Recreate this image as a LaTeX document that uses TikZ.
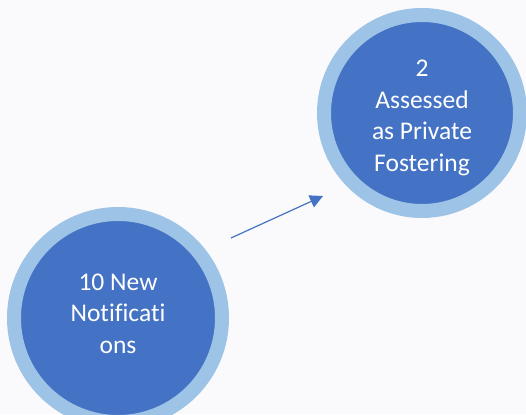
\documentclass[tikz,border=0pt]{standalone}
\usepackage{fontspec}
\usetikzlibrary{arrows.meta}
\setmainfont[Ligatures=NoCommon]{Carlito}
\definecolor{dark}{HTML}{4472C4}
\definecolor{ring}{HTML}{9DC3E6}
\definecolor{bg}{RGB}{250,250,253}
\begin{document}
\begin{tikzpicture}[x=1pt,y=1pt,
  bubble/.style={circle, fill=dark, draw=ring, line width=14pt, inner sep=0pt},
  label/.style={text=white, align=center, inner sep=0pt, font=\fontsize{25.5}{31.5}\selectfont}]
\fill[bg] (0,0) rectangle (526,414);
\useasboundingbox (0,0) rectangle (526,414);
\node[bubble, minimum size=208pt] (a) at (118,96) {};
\node[label] (at) at ([yshift=4.5pt]a.center) {10 New\\Notificati\\ons};
\node[bubble, minimum size=196pt] (b) at (422,301) {};
\node[label] (bt) at ([yshift=-5pt]b.center) {2\\Assessed\\as Private\\Fostering};
\coordinate (s) at (231,176);
\coordinate (e) at (323,218);
\draw[dark, line width=1.2pt, -{Triangle[length=13pt,width=13pt]}] (s) -- (e);
\end{tikzpicture}
\end{document}
